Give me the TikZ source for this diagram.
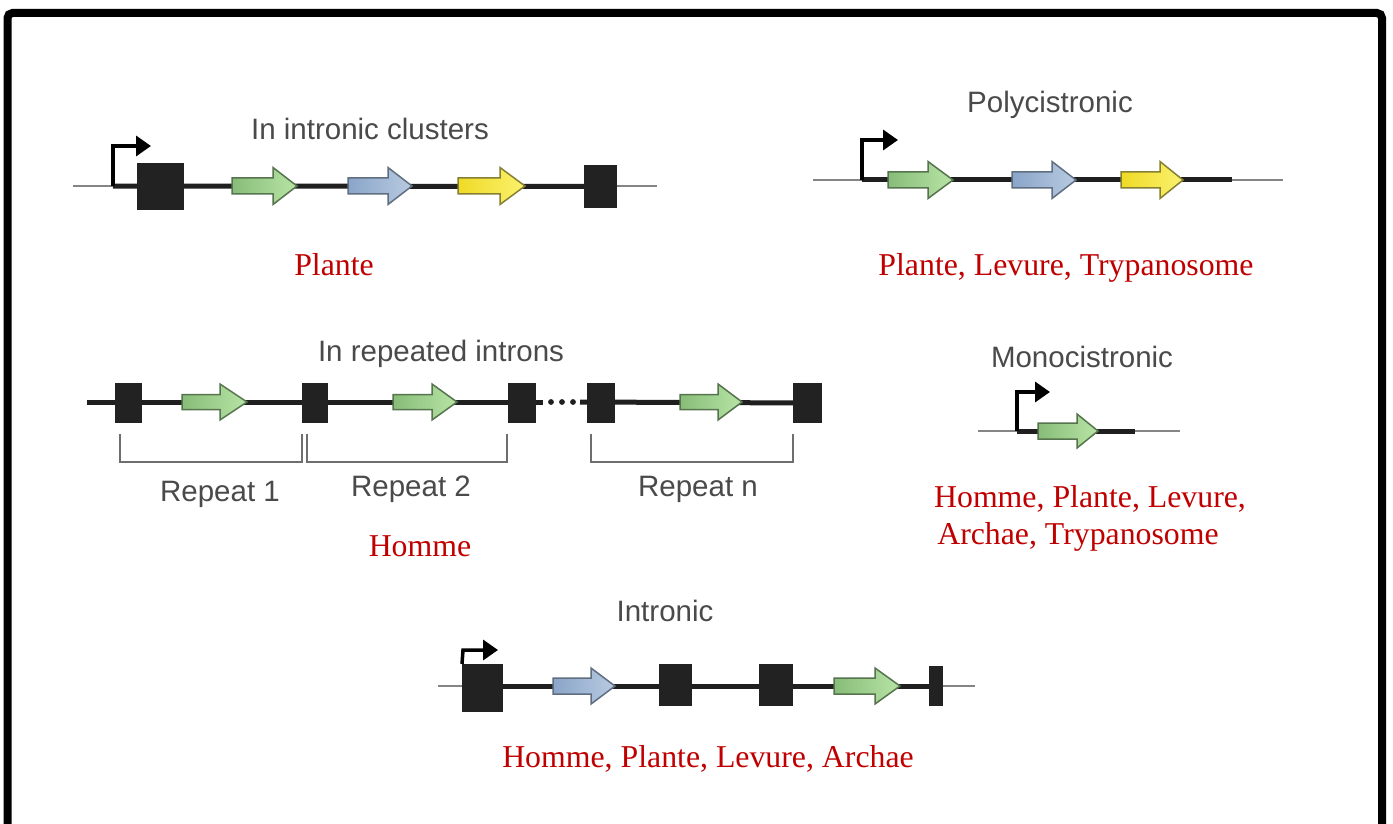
\documentclass[tikz,border=0pt]{standalone}
\usepackage{fontspec}
\setmainfont{Liberation Serif}
\newfontfamily\lblsans{Liberation Sans}
\usetikzlibrary{arrows.meta,backgrounds}
\definecolor{redtxt}{HTML}{C00000}
\definecolor{graytxt}{HTML}{4A4A4A}
\definecolor{dnagray}{HTML}{858585}
\definecolor{exonblack}{HTML}{222222}
\definecolor{grnL}{HTML}{88BC79}
\definecolor{grnR}{HTML}{B7E4A5}
\definecolor{grnE}{HTML}{56744D}
\definecolor{bluL}{HTML}{8AA5C9}
\definecolor{bluR}{HTML}{B8CAE0}
\definecolor{bluE}{HTML}{5F6F80}
\definecolor{yelL}{HTML}{EFDA26}
\definecolor{yelR}{HTML}{FBF16E}
\definecolor{yelE}{HTML}{858033}
\definecolor{brkgray}{HTML}{6E6E6E}
% style, x0, y, x body end, x tip, body half height, head half height
\newcommand\genearrow[7]{%
  \path[#1] (#2,#3-#6) -- (#4,#3-#6) -- (#4,#3-#7) -- (#5,#3) -- (#4,#3+#7)
    -- (#4,#3+#6) -- (#2,#3+#6) -- cycle;}
\begin{document}
\begin{tikzpicture}[x=1pt, y=-1pt,
  thindna/.style={draw=dnagray, line width=2pt},
  thickdna/.style={draw=black!88, line width=5pt},
  exon/.style={fill=exonblack, draw=none, inner sep=0pt, outer sep=0pt},
  promo/.style={draw=black, line width=3.5pt, line join=miter,
    -{Triangle[length=15pt,width=20pt]}},
  garr/.style={draw=grnE, line width=1.5pt, left color=grnL, right color=grnR},
  barr/.style={draw=bluE, line width=1.5pt, left color=bluL, right color=bluR},
  yarr/.style={draw=yelE, line width=1.5pt, left color=yelL, right color=yelR},
  title/.style={font=\lblsans\fontsize{29.5}{32}\selectfont, text=graytxt,
    anchor=base, inner sep=0pt},
  org/.style={font=\fontsize{31.8}{34}\selectfont, text=redtxt,
    anchor=base, inner sep=0pt},
  bracket/.style={draw=brkgray, line width=2pt},
  frameline/.style={draw=black, line width=8pt, rounded corners=5pt}]
\useasboundingbox (0,0) rectangle (1393,824);
\clip (0,0) rectangle (1393,824);
\begin{scope}[on background layer]
  \fill[white] (0,0) rectangle (1393,824);
\end{scope}
\draw[frameline] (7.5,840) -- (7.5,13) -- (1382,13) -- (1382,840);

% ---------- Panel 1: In intronic clusters ----------
\node[title] (t1) at (370,140) {In intronic clusters};
\coordinate (l1a) at (73,186);
\coordinate (l1b) at (657,186);
\coordinate (p1) at (113,186);
\node[exon, minimum width=47pt, minimum height=47pt] (a1) at (160.5,186.5) {};
\node[exon, minimum width=33pt, minimum height=43pt] (a2) at (600.5,186.5) {};
\begin{scope}[on background layer]
  \draw[thindna] (l1a) -- (l1b);
  \draw[thickdna] (p1) -- (a2.center);
\end{scope}
\draw[promo] (p1) -- (113,146) -- (151,146);
\genearrow{garr}{232}{186}{273}{297}{8}{18.5}
\genearrow{barr}{348}{186}{388}{412}{8}{18.5}
\genearrow{yarr}{458}{186}{500}{525}{8}{18.5}
\node[org] (o1) at (334,275) {Plante};

% ---------- Panel 2: Polycistronic ----------
\node[title] (t2) at (1050,113) {Polycistronic};
\coordinate (l2a) at (813,180);
\coordinate (l2b) at (1283,180);
\coordinate (p2) at (862,180);
\coordinate (e2) at (1232,180);
\draw[thindna] (l2a) -- (l2b);
\draw[thickdna] (p2) -- (e2);
\draw[promo] (p2) -- (862,140) -- (898,140);
\genearrow{garr}{888}{180}{928}{953}{8}{18.5}
\genearrow{barr}{1012}{180}{1052}{1076}{8}{18.5}
\genearrow{yarr}{1121}{180}{1160}{1183}{8}{18.5}
\node[org] (o2) at (1066,275) {Plante, Levure, Trypanosome};

% ---------- Panel 3: In repeated introns ----------
\node[title] (t3) at (441,361) {In repeated introns};
\coordinate (l3a) at (87,402);
\coordinate (d3a) at (543,402);
\coordinate (d3b) at (580,402);
\node[exon, minimum width=27pt, minimum height=40pt] (b1) at (128.5,403) {};
\node[exon, minimum width=26pt, minimum height=40pt] (b2) at (315,403) {};
\node[exon, minimum width=28pt, minimum height=40pt] (b3) at (522,403) {};
\node[exon, minimum width=28pt, minimum height=40pt] (b4) at (601,403) {};
\node[exon, minimum width=29pt, minimum height=40pt] (b5) at (807.5,403) {};
\begin{scope}[on background layer]
  \draw[thickdna] (l3a) -- (d3a);
  \draw[thickdna] (d3b) -- (b5.center);
\end{scope}
\foreach \x in {551,562,573}
  \fill[black!88] (\x,402) circle[radius=2.9pt];
\genearrow{garr}{182}{402}{220}{247}{7.5}{18}
\genearrow{garr}{393}{402}{432}{457}{7.5}{18}
\genearrow{garr}{680}{402}{718}{742}{7.5}{18}
\draw[bracket] (120,434) -- (120,462) -- (302,462) -- (302,434);
\draw[bracket] (307,434) -- (307,462) -- (507,462) -- (507,434);
\draw[bracket] (591,434) -- (591,462) -- (793,462) -- (793,434);
\node[title] (r1) at (220,501) {Repeat 1};
\node[title] (r2) at (411,496) {Repeat 2};
\node[title] (rn) at (698,496) {Repeat n};
\node[org] (o3) at (420,556) {Homme};

% ---------- Panel 4: Monocistronic ----------
\node[title] (t4) at (1082,367) {Monocistronic};
\coordinate (l4a) at (978,431);
\coordinate (l4b) at (1180,431);
\coordinate (p4) at (1017,431);
\coordinate (e4) at (1135,431);
\draw[thindna] (l4a) -- (l4b);
\draw[thickdna] (p4) -- (e4);
\draw[promo] (p4) -- (1017,392) -- (1050,392);
\genearrow{garr}{1038}{431}{1077}{1098}{8}{17}
\node[org] (o4a) at (1090,507) {Homme, Plante, Levure,};
\node[org] (o4b) at (1078,544) {Archae, Trypanosome};

% ---------- Panel 5: Intronic ----------
\node[title] (t5) at (665,621) {Intronic};
\coordinate (l5a) at (438,686);
\coordinate (l5b) at (975,686);
\coordinate (p5) at (463,686);
\node[exon, minimum width=41pt, minimum height=48pt] (c1) at (482.5,688) {};
\node[exon, minimum width=33pt, minimum height=42pt] (c2) at (675.5,685) {};
\node[exon, minimum width=34pt, minimum height=42pt] (c3) at (776,685) {};
\node[exon, minimum width=14pt, minimum height=40pt] (c4) at (936,686) {};
\begin{scope}[on background layer]
  \draw[thindna] (l5a) -- (l5b);
  \draw[thickdna] (p5) -- (c4.center);
\end{scope}
\draw[promo] (c1.north west) -- (463,650) -- (498,650);
\genearrow{barr}{553}{686}{591}{615}{8}{18}
\genearrow{garr}{834}{686}{875}{900}{8}{18}
\node[org] (o5) at (708,767) {Homme, Plante, Levure, Archae};
\end{tikzpicture}
\end{document}
